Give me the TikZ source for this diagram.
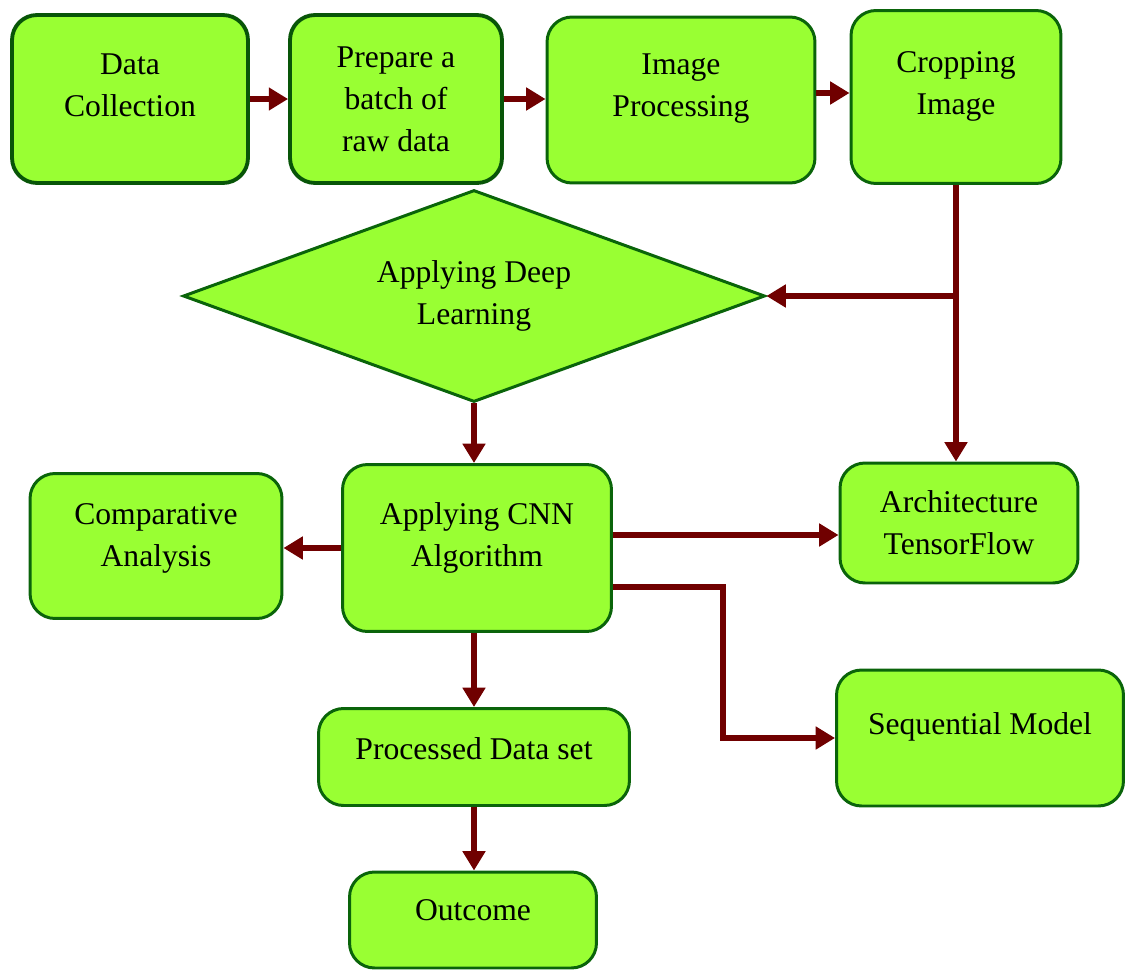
\documentclass[tikz,border=0pt]{standalone}
\usepackage{fontspec}
\setmainfont{Liberation Serif}
\usetikzlibrary{shapes.geometric,arrows.meta}
\definecolor{boxfill}{RGB}{153,255,51}
\definecolor{boxline}{RGB}{10,100,10}
\definecolor{arrowred}{RGB}{112,0,0}
\begin{document}
\begin{tikzpicture}[x=0.02cm, y=-0.02cm,
    block/.style={rectangle, draw=boxline, fill=boxfill, line width=1.7pt, rounded corners=0.5cm, align=center, font=\fontsize{18}{24}\selectfont},
    topblock/.style={block, line width=2.2pt, draw=boxline!85!black},
    lift/.style={text depth=#1},
    decision/.style={diamond, shape aspect=2.7, draw=boxline, fill=boxfill, line width=1.7pt, inner sep=0pt, align=center, font=\fontsize{18}{24}\selectfont},
    arrow/.style={line width=3.4pt, draw=arrowred, -{Triangle[length=11pt,width=12.5pt]}}]
    \useasboundingbox (0,0) rectangle (1126,970);
    % top row
    \node [topblock, lift=16pt, minimum width=4.72cm, minimum height=3.36cm] (dc) at (130,99) {Data\\Collection};
    \node [topblock, minimum width=4.24cm, minimum height=3.36cm] (prep) at (396,99) {Prepare a\\batch of\\raw data};
    \node [block, lift=17pt, minimum width=5.36cm, minimum height=3.32cm] (ip) at (681,100) {Image\\Processing};
    \node [block, lift=16pt, minimum width=4.2cm, minimum height=3.46cm] (crop) at (956,97) {Cropping\\Image};
    % decision
    \node [decision, minimum width=11.64cm, minimum height=4.24cm] (dl) at (474,296) {Applying Deep\\Learning};
    % middle row
    \node [block, lift=15pt, minimum width=5.38cm, minimum height=3.34cm] (cnn) at (477,548) {Applying CNN\\Algorithm};
    \node [block, lift=12.5pt, minimum width=5.04cm, minimum height=2.9cm] (comp) at (156,546) {Comparative\\Analysis};
    \node [block, minimum width=4.76cm, minimum height=2.4cm] (arch) at (959,523) {Architecture\\TensorFlow};
    \node [block, lift=16pt, minimum width=5.74cm, minimum height=2.72cm] (seq) at (980,738) {Sequential Model};
    % bottom
    \node [block, lift=10pt, minimum width=6.22cm, minimum height=1.94cm] (proc) at (474,757) {Processed Data set};
    \node [block, lift=11pt, minimum width=4.94cm, minimum height=1.92cm] (out) at (473,920) {Outcome};
    % connectors
    \draw [arrow] (dc.east) -- (prep.west);
    \draw [arrow] (prep.east) -- (prep.east -| ip.west);
    \draw [arrow] ([yshift=0.14cm]ip.east) -- ([yshift=0.14cm]ip.east -| crop.west);
    \coordinate (split) at (crop.south |- dl.east);
    \draw [arrow] (crop.south) -- (crop.south |- arch.north);
    \draw [arrow] (split) -- (dl.east);
    \draw [arrow] (dl.south) -- (dl.south |- cnn.north);
    \draw [arrow] (cnn.west) -- (cnn.west -| comp.east);
    \draw [arrow] ([yshift=0.26cm]cnn.east) -- ([yshift=0.26cm]cnn.east -| arch.west);
    \draw [arrow] ([yshift=-0.78cm]cnn.east) -- ++(110,0) |- (seq.west);
    \draw [arrow] (cnn.south -| proc.north) -- (proc.north);
    \draw [arrow] (proc.south) -- (proc.south |- out.north);
\end{tikzpicture}
\end{document}
